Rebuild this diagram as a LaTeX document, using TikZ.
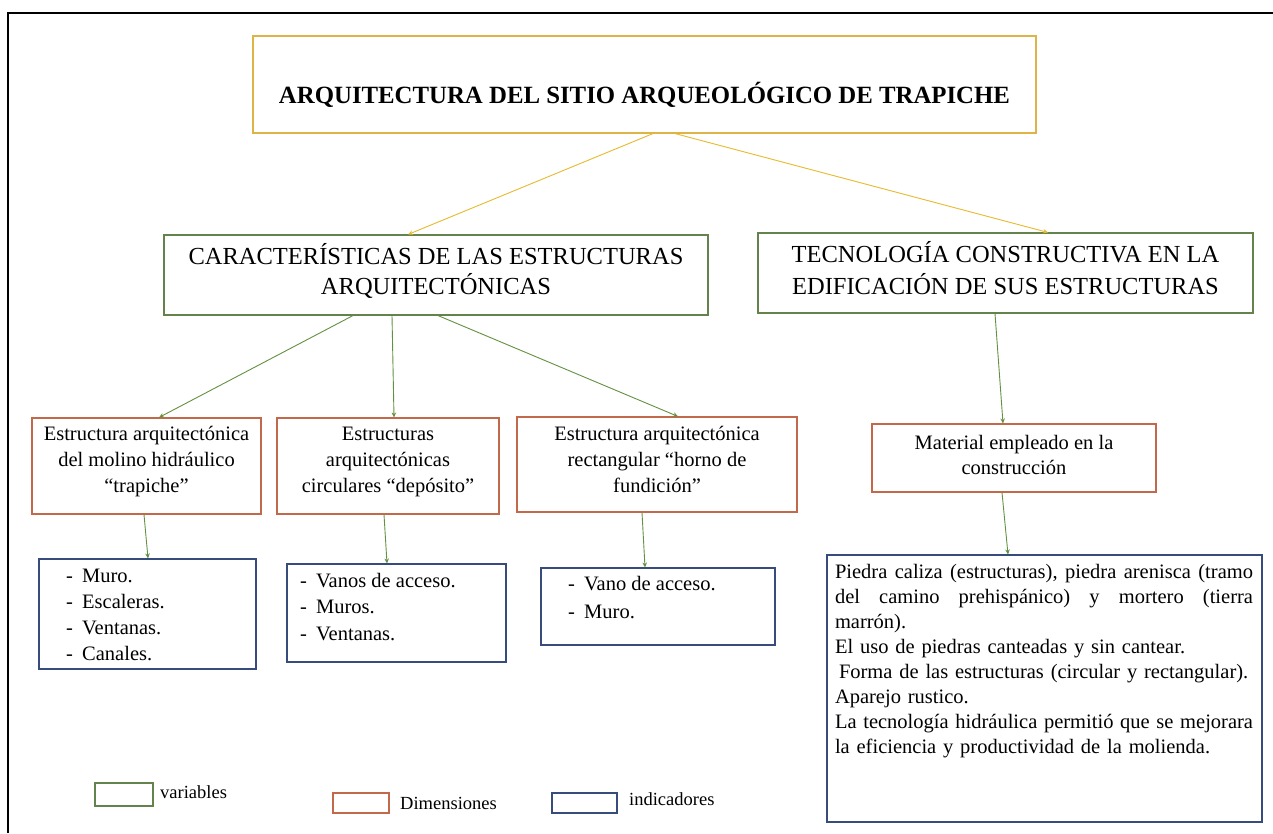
\documentclass[tikz,border=0pt]{standalone}
\usepackage{fontspec}
\setmainfont{Liberation Serif}
\usetikzlibrary{arrows.meta}
\definecolor{gold}{RGB}{222,180,70}
\definecolor{goldarrow}{RGB}{232,186,45}
\definecolor{vgreen}{RGB}{100,130,75}
\definecolor{garrow}{RGB}{100,145,65}
\definecolor{dimred}{RGB}{195,105,75}
\definecolor{indblue}{RGB}{55,75,125}
\tikzset{
  bx/.style 2 args={draw,line width=1.1pt,inner sep=0pt,minimum width=#1,minimum height=#2},
  conn/.style={line width=0.9pt,-{Stealth[length=5pt,width=4.5pt]}},
  tx/.style={inner sep=0pt,align=center,font=\fontsize{20.5}{26}\selectfont},
  lst/.style={inner sep=0pt,align=left,anchor=west,font=\fontsize{20.5}{26}\selectfont},
  lg/.style={inner sep=0pt,anchor=west,font=\fontsize{18.5}{22}\selectfont}
}
\newcommand{\itm}[1]{\makebox[16pt][l]{-}#1}
\newcommand{\jline}[1]{\leavevmode\hbox to 418pt{#1}}
\begin{document}
\begin{tikzpicture}[x=1pt,y=-1pt]
\useasboundingbox (0,0) rectangle (1273,833);
\fill[white] (0,0) rectangle (1273,833);
% frame
\draw[line width=2pt] (8,833) -- (8,13) -- (1273,13);

% boxes
\node[bx={783pt}{97pt},draw=gold] (title) at (644.5,84.5) {};
\node[bx={544pt}{80pt},draw=vgreen] (caract) at (436,275) {};
\node[bx={495pt}{80pt},draw=vgreen] (tecno) at (1005.5,273) {};
\node[bx={229pt}{96pt},draw=dimred] (d1) at (146.5,466) {};
\node[bx={222pt}{96pt},draw=dimred] (d2) at (388,466) {};
\node[bx={280pt}{95pt},draw=dimred] (d3) at (657,464.5) {};
\node[bx={284pt}{68pt},draw=dimred] (mat) at (1014,458) {};
\node[bx={217pt}{110pt},draw=indblue] (i1) at (147.5,614) {};
\node[bx={219pt}{98pt},draw=indblue] (i2) at (396.5,613) {};
\node[bx={234pt}{77pt},draw=indblue] (i3) at (658,606.5) {};
\node[bx={435pt}{267pt},draw=indblue] (i4) at (1044.5,688.5) {};

% texts
\node[inner sep=0pt,font=\bfseries\fontsize{24.8}{30}\selectfont] (titletxt) at (644.5,95) {ARQUITECTURA DEL SITIO ARQUEOLÓGICO DE TRAPICHE};
\node[inner sep=0pt,align=center,font=\fontsize{24.5}{30.5}\selectfont] (caracttxt) at (436,271) {CARACTERÍSTICAS DE LAS ESTRUCTURAS\\ARQUITECTÓNICAS};
\node[inner sep=0pt,align=center,font=\fontsize{24.5}{32}\selectfont] (tecnotxt) at (1005.5,268) {TECNOLOGÍA CONSTRUCTIVA EN LA\\EDIFICACIÓN DE SUS ESTRUCTURAS};
\node[tx] (d1txt) at (146.5,462) {Estructura arquitectónica\\del molino hidráulico\\“trapiche”};
\node[tx] (d2txt) at (388,462) {Estructuras\\arquitectónicas\\circulares “depósito”};
\node[tx] (d3txt) at (657,459) {Estructura arquitectónica\\rectangular “horno de\\fundición”};
\node[tx,font=\fontsize{20.5}{25}\selectfont] (mattxt) at (1014,455) {Material empleado en la\\construcción};
\node[lst] (i1txt) at (66,615) {\itm{Muro.}\\\itm{Escaleras.}\\\itm{Ventanas.}\\\itm{Canales.}};
\node[lst,font=\fontsize{20.5}{26.5}\selectfont] (i2txt) at (300,607) {\itm{Vanos de acceso.}\\\itm{Muros.}\\\itm{Ventanas.}};
\node[lst,font=\fontsize{20.5}{28}\selectfont] (i3txt) at (568,598) {\itm{Vano de acceso.}\\\itm{Muro.}};
\node[inner sep=0pt,align=left,text width=418pt,font=\fontsize{20.5}{25}\selectfont] (i4txt) at (1044,661)
 {\jline{Piedra\hfil caliza\hfil (estructuras),\hfil piedra\hfil arenisca\hfil (tramo}\\
  \jline{del\hfil camino\hfil prehispánico)\hfil y\hfil mortero\hfil (tierra}\\
  marrón).\\
  El uso de piedras canteadas y sin cantear.\\
  \hspace*{4pt}Forma de las estructuras (circular y rectangular).\\
  Aparejo rustico.\\
  \jline{La\hfil tecnología\hfil hidráulica\hfil permitió\hfil que\hfil se\hfil mejorara}\\
  la eficiencia y productividad de la molienda.};

% connectors
\draw[conn,goldarrow] ([xshift=8.5pt]title.south) -- ([xshift=-28pt]caract.north);
\draw[conn,goldarrow] ([xshift=30.5pt]title.south) -- ([xshift=42.5pt]tecno.north);
\draw[conn,garrow] ([xshift=-83pt]caract.south) -- ([xshift=12.5pt]d1.north);
\draw[conn,garrow] ([xshift=-44pt]caract.south) -- ([xshift=6pt]d2.north);
\draw[conn,garrow] ([xshift=2pt]caract.south) -- ([xshift=21pt]d3.north);
\draw[conn,garrow] ([xshift=-10.5pt]tecno.south) -- ([xshift=-11pt]mat.north);
\draw[conn,garrow] ([xshift=-2.5pt]d1.south) -- ([xshift=0.5pt]i1.north);
\draw[conn,garrow] ([xshift=-4pt]d2.south) -- ([xshift=-9.5pt]i2.north);
\draw[conn,garrow] ([xshift=-15pt]d3.south) -- ([xshift=-13pt]i3.north);
\draw[conn,garrow] ([xshift=-12pt]mat.south) -- ([xshift=-36.5pt]i4.north);

% legend
\node[bx={58pt}{23pt},draw=vgreen] (lgv) at (124,794.5) {};
\node[lg] (lgvtxt) at (160,792) {variables};
\node[bx={56pt}{20pt},draw=dimred] (lgd) at (361,803) {};
\node[lg] (lgdtxt) at (400,803) {Dimensiones};
\node[bx={65pt}{20pt},draw=indblue] (lgi) at (584.5,803) {};
\node[lg] (lgitxt) at (629,799) {indicadores};
\end{tikzpicture}
\end{document}
